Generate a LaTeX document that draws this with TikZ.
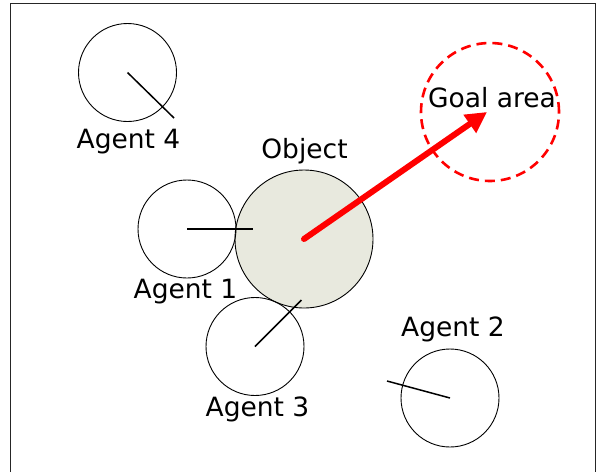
\documentclass[tikz,border=0pt]{standalone}
\usepackage{fontspec}
\setmainfont{DejaVu Sans}
\usetikzlibrary{arrows.meta}
\definecolor{objfill}{RGB}{232,233,222}
\tikzset{
  agent/.style={circle, draw=black, line width=0.9pt, minimum size=98pt, inner sep=0pt},
  objectbody/.style={circle, draw=black, line width=0.9pt, fill=objfill, minimum size=138pt, inner sep=0pt},
  goal/.style={circle, draw=red, dash pattern=on 10pt off 6pt, line width=2.6pt, minimum size=138pt, inner sep=0pt},
  heading/.style={line width=1.5pt, black},
  label/.style={anchor=base, inner sep=0pt, font=\fontsize{26.5}{30}\selectfont},
  push/.style={red, line width=6pt, line cap=round, -{Triangle[length=21pt, width=21pt]}},
}
\begin{document}
\begin{tikzpicture}[x=1pt, y=-1pt]
  \useasboundingbox (0,0) rectangle (599,472);
  % open frame
  \coordinate (fbl) at (10,472);
  \coordinate (ftl) at (10,3);
  \coordinate (ftr) at (595,3);
  \coordinate (fbr) at (595,472);
  \draw[line width=1pt, black!85] (fbl) -- (ftl) -- (ftr) -- (fbr);

  % object and goal
  \node[objectbody] (obj) at (304,239) {};
  \node[goal] (goal) at (490,112) {};

  % agents
  \node[agent] (a1) at (187,229) {};
  \node[agent] (a2) at (450,398) {};
  \node[agent] (a3) at (255,346.5) {};
  \node[agent] (a4) at (127.5,72.5) {};

  % heading markers
  \coordinate (h1) at (253,229);
  \coordinate (h2) at (387,381);
  \coordinate (h3) at (301.5,300);
  \coordinate (h4) at (174,118);
  \draw[heading] (a1.center) -- (h1);
  \draw[heading] (a2.center) -- (h2);
  \draw[heading] (a3.center) -- (h3);
  \draw[heading] (a4.center) -- (h4);

  % push direction
  \coordinate (tip) at (487,112);
  \draw[push] (obj.center) -- (tip);

  % labels
  \node[label] (l4) at (128.5,148) {Agent 4};
  \node[label] (lo) at (304.5,158) {Object};
  \node[label] (lg) at (492,107) {Goal area};
  \node[label] (l1) at (185.5,298) {Agent 1};
  \node[label] (l3) at (257.5,416.5) {Agent 3};
  \node[label] (l2) at (453,336) {Agent 2};
\end{tikzpicture}
\end{document}
